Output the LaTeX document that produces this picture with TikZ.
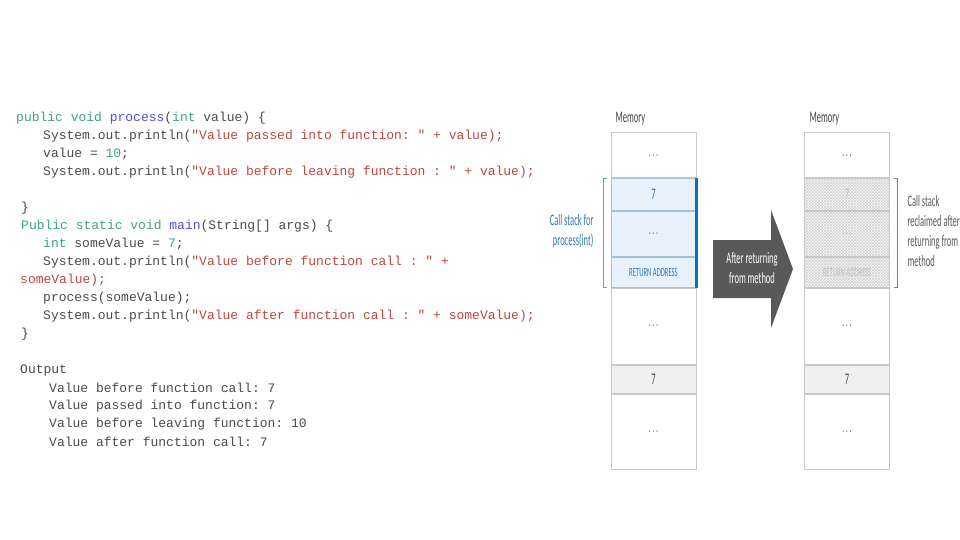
\documentclass[tikz,border=0pt]{standalone}
\usepackage{fontspec}
\setmonofont{Liberation Mono}
\newfontfamily\diagfont[FakeStretch=0.53]{Carlito}
\usepackage{tikz}
\usetikzlibrary{positioning, calc, patterns}
\definecolor{kwgreen}{HTML}{3FA37E}
\definecolor{fnblue}{HTML}{4B4BF0}
\definecolor{strred}{HTML}{C0453F}
\definecolor{codetext}{HTML}{4A4A4A}
\definecolor{memblue}{HTML}{2E75B6}
\definecolor{barblue}{HTML}{0A6FC2}
\definecolor{cellblue}{HTML}{E8F2FC}
\definecolor{cellgray}{HTML}{F0F0F0}
\definecolor{edgegray}{HTML}{C8C8C8}
\definecolor{arrowgray}{HTML}{595959}
\newcommand{\kw}[1]{\textcolor{kwgreen}{#1}}
\newcommand{\fn}[1]{\textcolor{fnblue}{#1}}
\newcommand{\str}[1]{\textcolor{strred}{#1}}
\newcommand{\celldots}{.\kern1.5pt.\kern1.5pt.}

\begin{document}
\begin{tikzpicture}[x=1pt, y=-1pt,
    code/.style={anchor=west, inner sep=0pt, font=\fontsize{13}{13}\ttfamily, text=codetext},
    cell/.style={draw=edgegray, line width=1pt, fill=white, minimum width=85pt, inner sep=0pt, font=\diagfont\fontsize{16}{16}\selectfont, text=gray},
    stackcell/.style={cell, draw=memblue!45, fill=cellblue, text=memblue},
    gonecell/.style={cell, preaction={fill=gray!6}, pattern=crosshatch, pattern color=gray!35, text=gray!50},
    addr/.style={font=\diagfont\fontsize{12.5}{12.5}\selectfont},
    lbl/.style={font=\diagfont\fontsize{16}{20}\selectfont, text=arrowgray},
    brk/.style={line width=0.6pt}
]
\useasboundingbox (0,0) rectangle (960,540);

% Code
\node[code] (c1) at (16,118) {\kw{public void} \fn{process}(\kw{int} value) \{};
\node[code] (c2) at (43,136) {System.out.println(\str{"Value passed into function: " + value);}};
\node[code] (c3) at (43,154) {value = \kw{10};};
\node[code] (c4) at (43,172) {System.out.println(\str{"Value before leaving function : " + value);}};
\node[code] (c5) at (21,208) {\}};
\node[code] (c6) at (21,226) {\kw{Public static void} \fn{main}(String[] args) \{};
\node[code] (c7) at (43,244) {\kw{int} someValue = \kw{7};};
\node[code] (c8) at (43,262) {System.out.println(\str{"Value before function call : " +}};
\node[code] (c9) at (20,280) {\str{someValue);}};
\node[code] (c10) at (43,298) {process(someValue);};
\node[code] (c11) at (43,316) {System.out.println(\str{"Value after function call : " + someValue);}};
\node[code] (c12) at (21,334) {\}};

% Output
\node[code] (out) at (20,370) {Output};
\node[code] (o1) at (49,388) {Value before function call: 7};
\node[code] (o2) at (49,406) {Value passed into function: 7};
\node[code] (o3) at (49,424) {Value before leaving function: 10};
\node[code] (o4) at (49,442) {Value after function call: 7};

% Memory during the call
\node[lbl, anchor=west, text=black!75] (memL) at (612,119) {Memory};
\node[cell, minimum height=45pt] (m1) at (653.5,155.5) {\celldots};
\node[stackcell, minimum height=31pt, below=0pt of m1] (m2) {7};
\node[stackcell, minimum height=45pt, below=0pt of m2, text=gray] (m3) {\celldots};
\node[stackcell, minimum height=30pt, below=0pt of m3, addr] (m4) {RETURN ADDRESS};
\node[cell, minimum height=76pt, below=0pt of m4] (m5) {\celldots};
\node[cell, minimum height=28pt, below=0pt of m5, fill=cellgray, text=black!70] (m6) {7};
\node[cell, minimum height=75pt, below=0pt of m6] (m7) {\celldots};
\draw[line width=2.5pt, barblue] (m2.north east) -- (m4.south east);
\draw[brk, memblue!70] ($(m2.north west)+(-4,0)$) -- ++(-3,0) -- ($(m4.south west)+(-7,0)$) -- ++(3,0);
\node[lbl, anchor=east, align=right, text=memblue] (callL) at (597,231) {Call stack for\\process(int)};

% Arrow
\fill[arrowgray] (713,240) -- (771,240) -- (771,210) -- (793,269) -- (771,328) -- (771,298) -- (713,298) -- cycle;
\node[lbl, align=center, text=white] (after) at (752,268) {After returning\\from method};

% Memory after the call
\node[lbl, anchor=west, text=black!75] (memR) at (806,119) {Memory};
\node[cell, minimum height=45pt] (r1) at (847,155.5) {\celldots};
\node[gonecell, minimum height=31pt, below=0pt of r1] (r2) {7};
\node[gonecell, minimum height=45pt, below=0pt of r2] (r3) {\celldots};
\node[gonecell, minimum height=30pt, below=0pt of r3, addr] (r4) {RETURN ADDRESS};
\node[cell, minimum height=76pt, below=0pt of r4] (r5) {\celldots};
\node[cell, minimum height=28pt, below=0pt of r5, fill=cellgray, text=black!70] (r6) {7};
\node[cell, minimum height=75pt, below=0pt of r6] (r7) {\celldots};
\draw[brk, gray] ($(r2.north east)+(4,0)$) -- ++(3,0) -- ($(r4.south east)+(7,0)$) -- ++(-3,0);
\node[lbl, anchor=west, align=left] (callR) at (904,231) {Call stack\\reclaimed after\\returning from\\method};

\end{tikzpicture}
\end{document}
